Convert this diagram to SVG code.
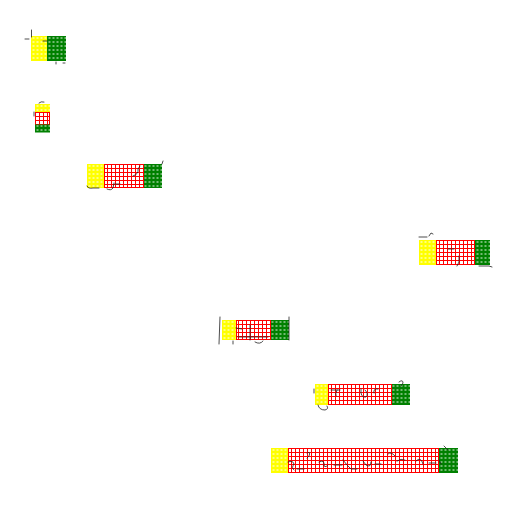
<svg xmlns="http://www.w3.org/2000/svg" width="512" height="512" viewBox="0 0 512 512">
<style>
.y{fill:url(#py)}
.g{fill:url(#pg)}
.r{fill:url(#pr)}
.rb{fill:none;stroke:#ff0000;stroke-width:1}
.s{fill:none;stroke:#222;stroke-width:1;stroke-linecap:round;opacity:0.8}
</style>
<defs>
<pattern id="py" patternUnits="userSpaceOnUse" width="4" height="4">
<rect width="4" height="4" fill="#ffff00"/>
<rect x="1.5" y="1.5" width="2" height="1" fill="#ffffff"/>
</pattern>
<pattern id="pg" patternUnits="userSpaceOnUse" width="4" height="4">
<rect width="4" height="4" fill="#008000"/>
<rect x="1.5" y="1.5" width="2" height="1" fill="#ffffff" opacity="0.9"/>
</pattern>
<pattern id="pr" patternUnits="userSpaceOnUse" width="4" height="4">
<rect width="4" height="4" fill="#ff0000"/>
<rect x="1" y="1" width="3" height="3" fill="#ffffff"/>
</pattern>
</defs>
<rect width="512" height="512" fill="#ffffff"/>
<g id="connectors"/>

<g id="strip1" transform="translate(31,36)">
<rect class="y" x="0" y="0" width="16" height="25"/>
<rect class="g" x="16" y="0" width="19" height="25"/>
<path class="s" d="M0.5,-6 V1 M-6,3 H-2 M12,5 H16 M25,26 V28 M32,27 H34"/>
</g>

<g id="strip2" transform="translate(35,104)">
<rect class="y" x="0" y="0" width="15" height="8"/>
<rect class="r" x="0" y="8" width="15" height="12"/>
<rect class="rb" x="0.5" y="8.5" width="14" height="12"/>
<rect class="g" x="0" y="20.5" width="15" height="8"/>
<path class="s" d="M4,-1 Q6,-3 9,-2 M-1,8 V12"/>
</g>

<g id="strip3" transform="translate(87,164)">
<rect class="y" x="0" y="0" width="17" height="24"/>
<rect class="r" x="17" y="0" width="40" height="24"/>
<rect class="rb" x="17.5" y="0.5" width="39" height="23"/>
<rect class="g" x="57" y="0" width="18" height="24"/>
<path class="s" d="M46,12 Q52,10 51,5 L53,2 M75,0 L76,-3 M0,22 Q1,25 6,24 H12 M20,25 Q24,27 26,24 L27,19 M28,20 H33"/>
</g>

<g id="strip4" transform="translate(419,240)">
<rect class="y" x="0" y="0" width="17" height="25"/>
<rect class="r" x="17" y="0" width="39" height="25"/>
<rect class="rb" x="17.5" y="0.5" width="38" height="24"/>
<rect class="g" x="56" y="0" width="15" height="25"/>
<path class="s" d="M0,-3 H8 M10,-4 L12,-7 L14,-6 M29,9 H35 M40,16 V22 L38,26 M60,26 H70 L73,27"/>
</g>

<g id="strip5" transform="translate(222,320)">
<rect class="y" x="0" y="0" width="14" height="20"/>
<rect class="r" x="14" y="0" width="35" height="20"/>
<rect class="rb" x="14.5" y="0.5" width="34" height="19"/>
<rect class="g" x="49" y="0" width="18" height="20"/>
<path class="s" d="M-2,-3 L-3,24 M67,-3 V20 M16,17 H46 M14,8 L20,9 M28,5 V20 M33,22 Q38,25 41,21 M11,21 V24"/>
</g>

<g id="strip6" transform="translate(315,384)">
<rect class="y" x="0" y="0" width="13" height="21"/>
<rect class="r" x="13" y="0" width="64" height="21"/>
<rect class="rb" x="13.5" y="0.5" width="63" height="20"/>
<rect class="g" x="77" y="0" width="18" height="21"/>
<path class="s" d="M3,21 Q4,26 10,26 Q14,25 12,22 M-1,5 V9 M16,6 H25 M22,6 Q20,10 21,12 M46,5 Q45,14 51,13 Q54,10 50,6 M59,9 Q58,4 63,5 M84,-2 Q88,-5 88,-1 L86,2"/>
</g>

<g id="strip7" transform="translate(271,448)">
<rect class="y" x="0" y="0" width="17" height="25"/>
<rect class="r" x="17" y="0" width="151" height="25"/>
<rect class="rb" x="17.5" y="0.5" width="150" height="24"/>
<rect class="g" x="168" y="0" width="19" height="25"/>
<path class="s" d="M17,14 Q22,12 23,16 Q20,20 23,22 M26,21 H33 M36,5 Q40,3 38,8 L36,10 M48,14 Q54,11 53,18 Q55,20 57,17 M63,17 H71 M72,12 L76,17 L80,21 H86 M92,13 L95,17 Q100,20 100,14 M104,16 H110 M117,6 Q120,3 124,8 M126,13 Q130,10 134,12 M145,13 Q150,8 152,16 M158,15 H165 M173,-2 L177,2 M168,12 L170,16"/>
</g>
</svg>
